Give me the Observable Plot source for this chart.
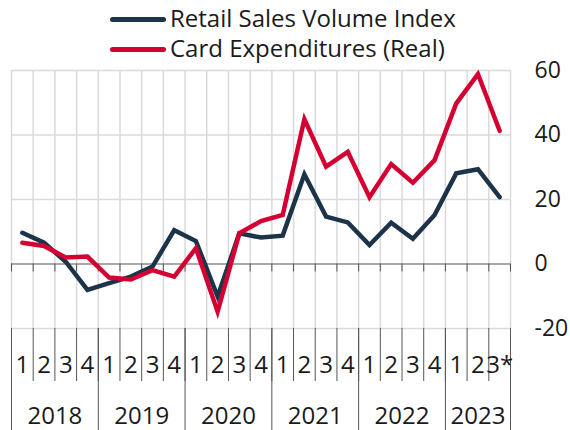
<!DOCTYPE html>
<html><head><meta charset="utf-8">
<script src="https://cdn.jsdelivr.net/npm/d3@7"></script>
<script src="https://cdn.jsdelivr.net/npm/@observablehq/plot@0.6"></script>
<style>
body{margin:0;background:#fff;font-family:"Open Sans",sans-serif;color:#1a1a1a}
#legend{position:relative;width:570px;height:50px;z-index:2}
.row{position:absolute;left:110px;display:flex;align-items:center;height:30px;line-height:30px;font-size:24px;white-space:nowrap}
.sw{width:56px;height:5px;border-radius:3px;margin-right:4px;position:relative;top:1px}
#chart{position:relative;z-index:1}
</style></head><body>
<div id="legend"></div>
<div id="chart"></div>
<script>
const quarterYears = [2018,2018,2018,2018,2019,2019,2019,2019,2020,2020,2020,2020,2021,2021,2021,2021,2022,2022,2022,2022,2023,2023,2023];
const quarterLabels = ["1","2","3","4","1","2","3","4","1","2","3","4","1","2","3","4","1","2","3","4","1","2","3*"];
const retailSales = [9.7,6.6,0.7,-8.0,-5.9,-3.9,-0.8,10.5,7.1,-10.1,9.5,8.2,8.8,27.8,14.7,12.9,5.9,12.8,7.8,15.2,28.1,29.4,20.7];
const cardExpenditures = [6.6,5.6,2.0,2.3,-4.2,-4.8,-1.9,-3.9,4.9,-14.8,9.5,13.3,15.2,44.9,30.2,34.8,20.7,31.0,25.2,32.2,49.8,58.9,41.3];
const seriesNames = ["Retail Sales Volume Index","Card Expenditures (Real)"];
const seriesColors = ["#1d3349","#d50032"];
const yTicks = [-20,0,20,40,60];

// legend
const legend = document.getElementById("legend");
seriesNames.forEach((name, k) => {
  const row = document.createElement("div");
  row.className = "row";
  row.style.top = (3 + 30*k) + "px";
  const sw = document.createElement("div");
  sw.className = "sw";
  sw.style.background = seriesColors[k];
  const t = document.createElement("span");
  t.textContent = name;
  row.appendChild(sw); row.appendChild(t);
  legend.appendChild(row);
});

const indices = quarterLabels.map((_, i) => i);
const rows = [
  ...retailSales.map((v, i) => ({i, value: v, series: seriesNames[0]})),
  ...cardExpenditures.map((v, i) => ({i, value: v, series: seriesNames[1]}))
];
const boundaries = [...indices.map(i => i - 0.5), indices.length - 0.5];
const yearBoundaries = [...indices.filter(i => i === 0 || quarterYears[i] !== quarterYears[i-1]).map(i => i - 0.5), indices.length - 0.5];
const yearCenterMap = new Map();
for (const y of new Set(quarterYears)) {
  yearCenterMap.set(d3.mean(indices.filter(i => quarterYears[i] === y)), y);
}
const yearCenters = [...yearCenterMap.keys()];

const chart = Plot.plot({
  width: 570,
  height: 380,
  marginTop: 20,
  marginBottom: 102,
  marginLeft: 11,
  marginRight: 60,
  style: {fontFamily: "Open Sans", fontSize: "24px", color: "#1a1a1a", background: "transparent"},
  x: {type: "linear", domain: [-0.5, indices.length - 0.5]},
  y: {domain: [-20, 60]},
  color: {domain: seriesNames, range: seriesColors},
  marks: [
    Plot.ruleY([-20, 20, 40, 60], {stroke: "#dadada", strokeWidth: 1.5}),
    Plot.ruleX(boundaries, {stroke: "#dadada", strokeWidth: 1.5}),
    Plot.ruleY([0], {stroke: "#8c8c8c", strokeWidth: 1.5}),
    Plot.ruleX(boundaries, {y1: 0, y2: 0, insetBottom: -8, stroke: "#555", strokeWidth: 1}),
    Plot.axisX(boundaries, {tickSize: 53, tickFormat: () => "", stroke: "#555", label: null}),
    Plot.axisX(yearBoundaries, {tickSize: 102, tickFormat: () => "", stroke: "#555", label: null}),
    Plot.axisX(indices, {tickSize: 0, tickPadding: 27, tickFormat: i => quarterLabels[i], fontSize: 24, label: null}),
    Plot.axisX(yearCenters, {tickSize: 0, tickPadding: 78, tickFormat: d => String(yearCenterMap.get(d)), fontSize: 24, label: null}),
    Plot.axisY(yTicks, {anchor: "right", tickSize: 0, tickPadding: 24, fontSize: 23, tickFormat: d => String(d), label: null}),
    Plot.line(rows, {x: "i", y: "value", z: "series", stroke: "series", strokeWidth: 4.5, strokeLinejoin: "miter", strokeMiterlimit: 10})
  ]
});
document.getElementById("chart").appendChild(chart);
</script>
</body></html>
